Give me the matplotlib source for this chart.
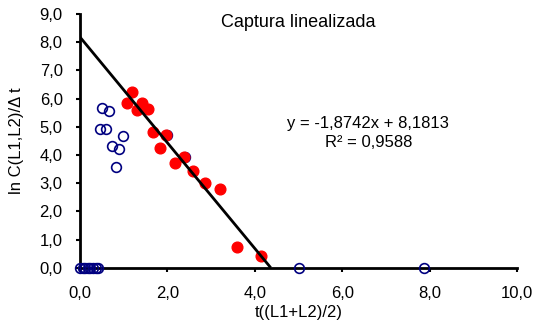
import matplotlib.pyplot as plt
from matplotlib.ticker import FuncFormatter

plt.rcParams['font.family'] = ['Liberation Sans', 'DejaVu Sans']

# all observations (open blue circles)
x_all = [0.0, 0.06, 0.12, 0.18, 0.24, 0.3, 0.36, 0.42,
         0.50, 0.66, 0.46, 0.60, 0.99, 0.74, 0.90, 0.82,
         2.00, 2.40, 5.01, 7.88]
y_all = [0.0, 0.0, 0.0, 0.0, 0.0, 0.0, 0.0, 0.0,
         5.65, 5.57, 4.91, 4.93, 4.68, 4.32, 4.20, 3.58,
         4.70, 3.94, 0.0, 0.0]

# points used in the fit (filled red)
x_fit = [1.20, 1.07, 1.41, 1.30, 1.56, 1.68, 1.97, 1.82, 2.18, 2.37,
         2.59, 2.86, 3.21, 3.60, 4.14]
y_fit = [6.24, 5.83, 5.83, 5.59, 5.62, 4.83, 4.71, 4.23, 3.70, 3.94,
         3.44, 3.02, 2.79, 0.75, 0.43]

slope = -1.8742
intercept = 8.1813
r2 = 0.9588

fig = plt.figure(figsize=(5.34, 3.24), dpi=100)
ax = fig.add_axes([0.1498, 0.1738, 0.8182, 0.783])

ax.plot(x_all, y_all, 'o', ms=7, mfc='none', mec='#000080', mew=1.2,
        zorder=3, clip_on=False)
ax.plot(x_fit, y_fit, 'o', ms=7.7, mfc='#ff0000', mec='#ff0000',
        zorder=4, clip_on=False)

x0 = -intercept / slope
ax.plot([0, x0], [intercept, 0], color='black', lw=2, zorder=5,
        solid_capstyle='butt')

ax.set_xlim(0, 10)
ax.set_ylim(0, 9)
ax.set_xticks([0, 2, 4, 6, 8, 10])
ax.set_yticks(range(0, 10))
comma = FuncFormatter(lambda v, p: f'{v:.1f}'.replace('.', ','))
ax.xaxis.set_major_formatter(comma)
ax.yaxis.set_major_formatter(comma)

for s in ['top', 'right']:
    ax.spines[s].set_visible(False)
for s in ['left', 'bottom']:
    ax.spines[s].set_linewidth(2)
ax.tick_params(direction='out', length=3, width=1.5, labelsize=12)
ax.tick_params(axis='x', pad=10)
ax.tick_params(axis='y', pad=9.5)

ax.set_xlabel('t((L1+L2)/2)', fontsize=12, labelpad=3)
ax.set_ylabel('ln C(L1,L2)/\u0394 t', fontsize=12, labelpad=11)

ax.text(5.0, 8.7, 'Captura linealizada', fontsize=13, ha='center', va='center')
ax.text(6.6, 5.1, f'y = {slope:.4f}x + {intercept:.4f}'.replace('.', ','),
        fontsize=12, ha='center', va='center')
ax.text(6.6, 4.45, f'R² = {r2:.4f}'.replace('.', ','),
        fontsize=12, ha='center', va='center')

fig.savefig('out.png', dpi=100)
